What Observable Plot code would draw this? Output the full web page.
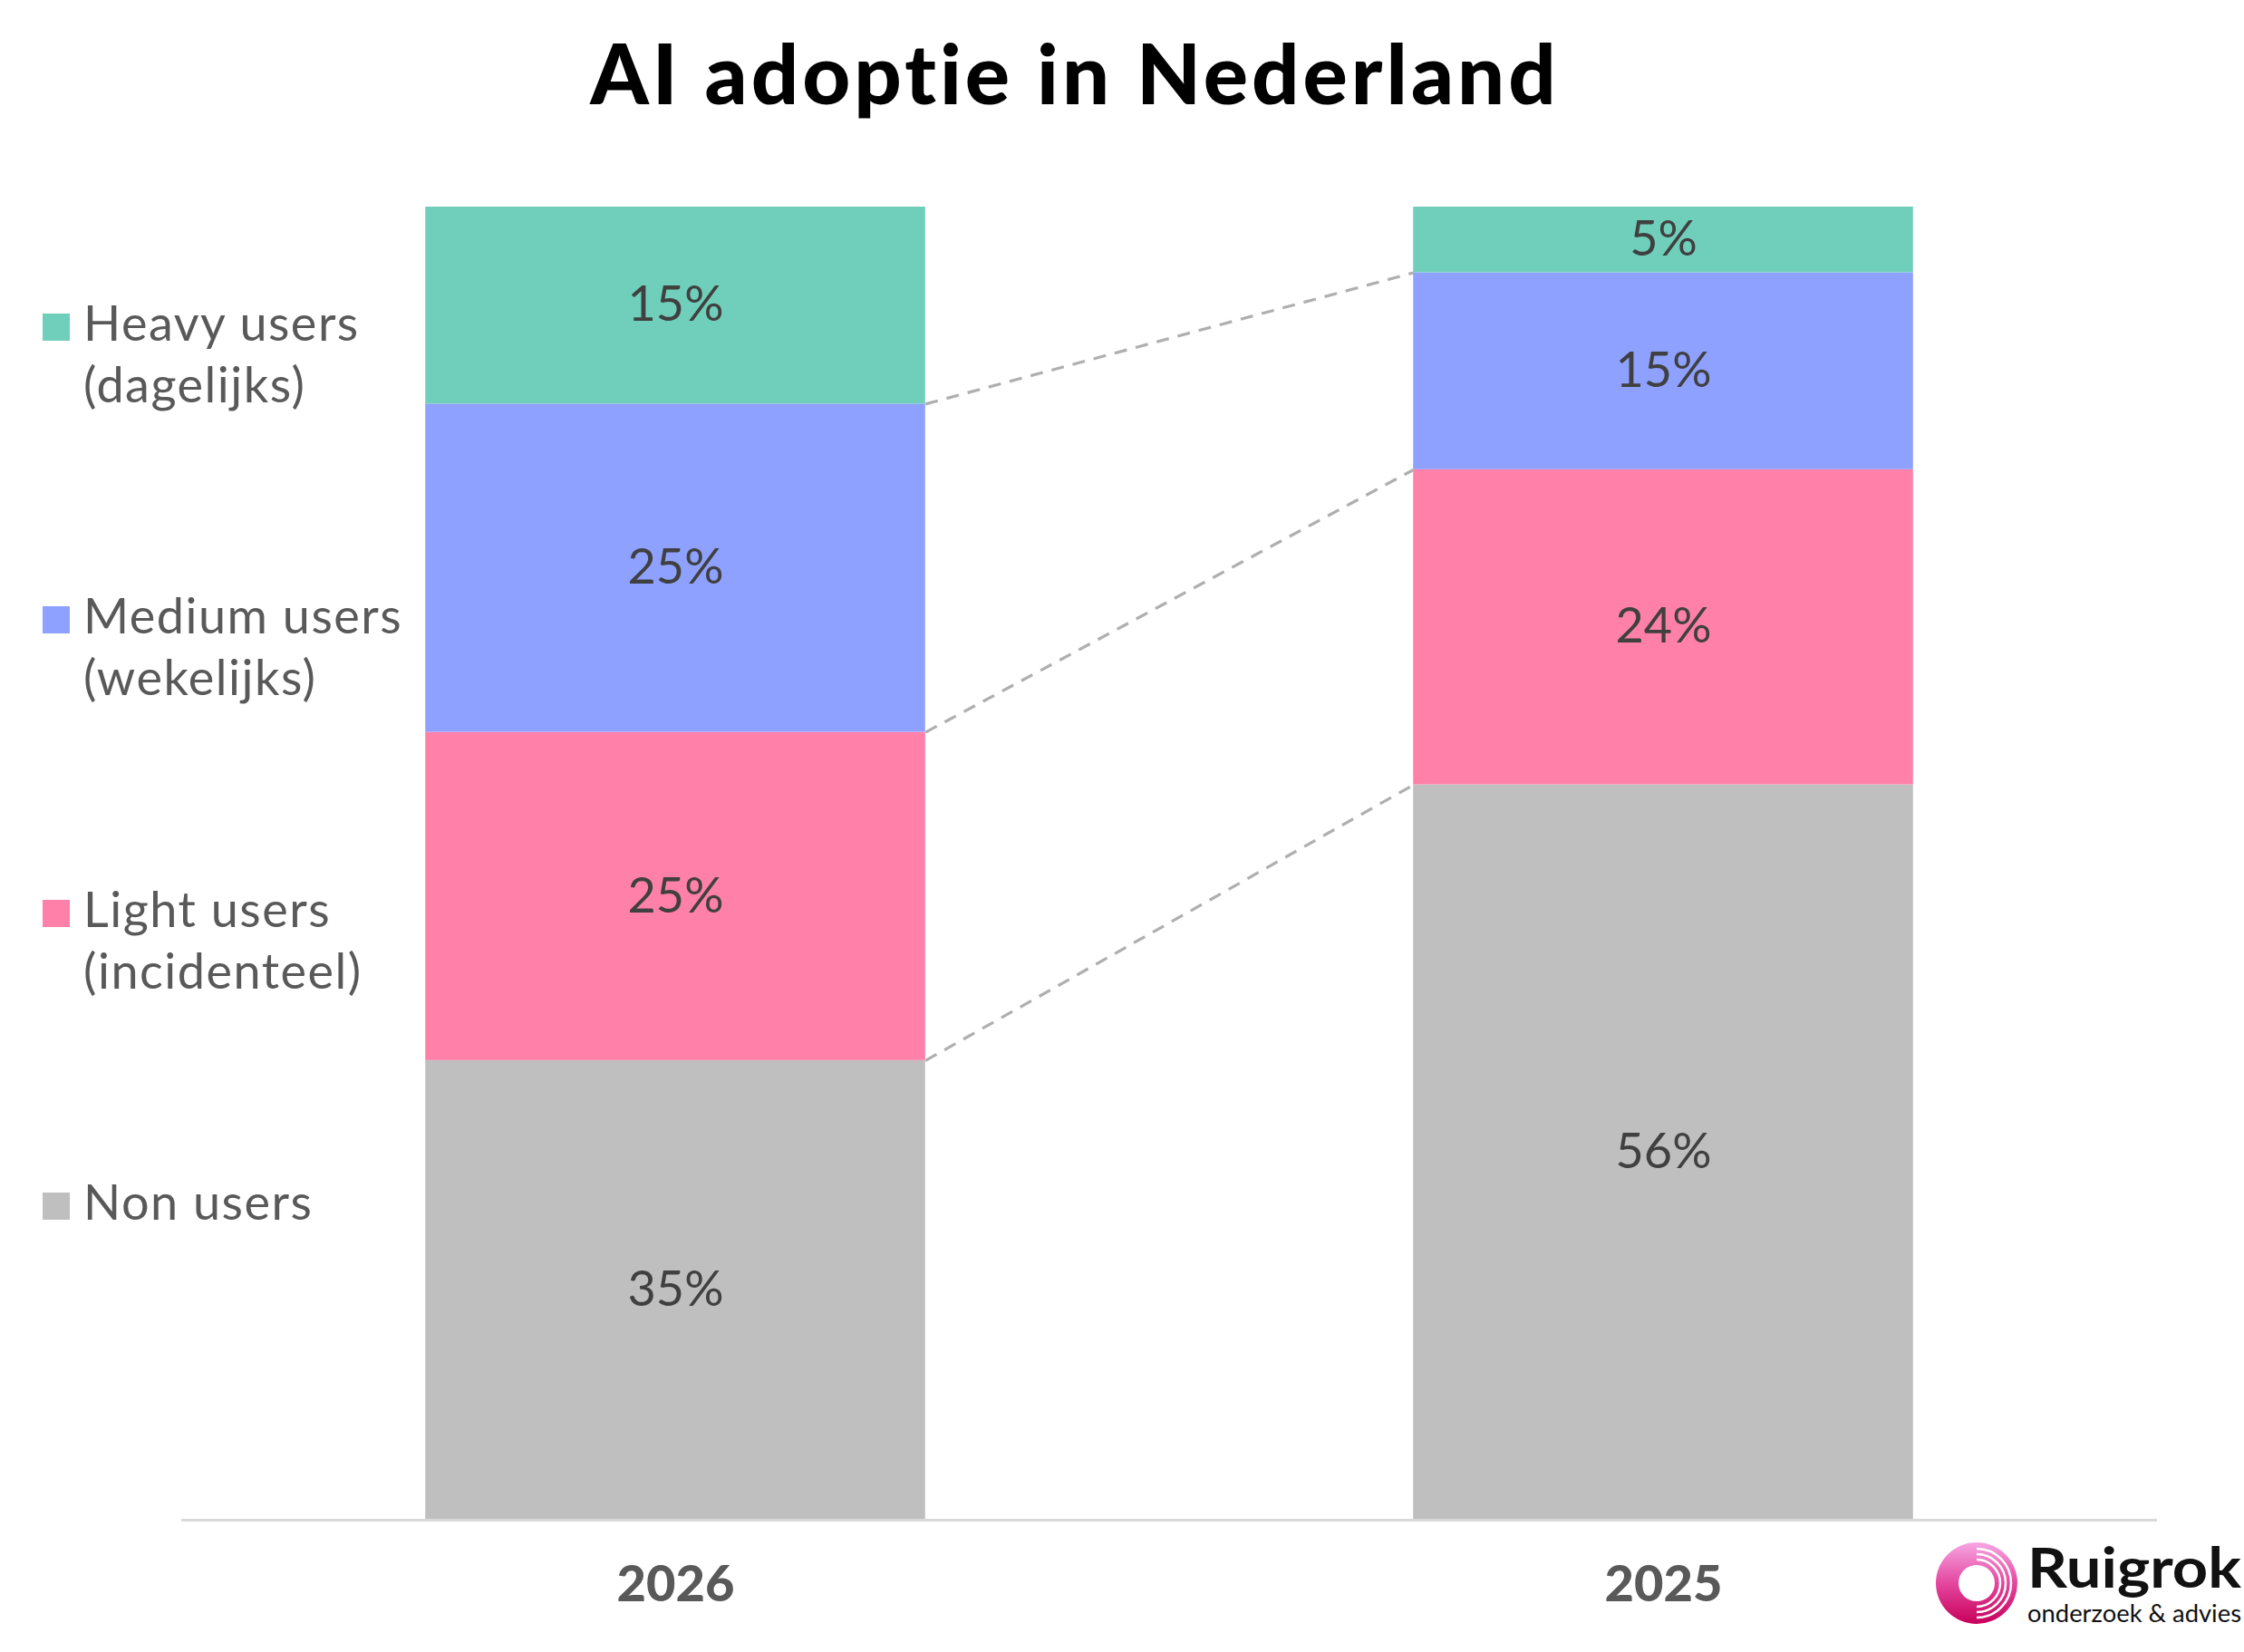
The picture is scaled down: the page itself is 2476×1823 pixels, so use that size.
<!DOCTYPE html>
<html>
<head>
<meta charset="utf-8">
<script src="https://cdn.jsdelivr.net/npm/d3@7"></script>
<script src="https://cdn.jsdelivr.net/npm/@observablehq/plot@0.6"></script>
<style>
  html, body { margin: 0; padding: 0; background: #fff; }
  #wrap { position: relative; width: 2476px; height: 1823px; overflow: hidden; font-family: Lato, "Noto Sans", sans-serif; }
  #title { position: absolute; top: 25px; left: 0; width: 2372px; text-align: center; font-weight: 900; font-size: 92px; line-height: 1.2; letter-spacing: 4px; color: #000; }
  #chart { position: absolute; top: 150px; left: 0; }
  .leg { position: absolute; left: 0; }
  .leg .sw { position: absolute; left: 47px; width: 30px; height: 30px; }
  .leg .tx { position: absolute; left: 92px; font-size: 54px; line-height: 68px; letter-spacing: 1.5px; color: #595959; white-space: nowrap; }
  #logo { position: absolute; left: 2120px; top: 1690px; }
</style>
</head>
<body>
<div id="wrap">
  <div id="title">AI adoptie in Nederland</div>
  <div id="chart"></div>
  <div id="legend"></div>
  <svg id="logo" width="356" height="120" viewBox="2120 1690 356 120">
    <defs>
      <linearGradient id="lg" x1="0" y1="0" x2="0" y2="1">
        <stop offset="0" stop-color="#f7a6e2"/>
        <stop offset="0.5" stop-color="#e4479f"/>
        <stop offset="1" stop-color="#c8005a"/>
      </linearGradient>
      <clipPath id="rh"><rect x="2181" y="1700" width="50" height="95"/></clipPath>
    </defs>
    <circle cx="2181" cy="1747" r="45" fill="url(#lg)"/>
    <circle cx="2181" cy="1747" r="20" fill="#fff"/>
    <g clip-path="url(#rh)" fill="none" stroke="#fff" stroke-width="2.5">
      <circle cx="2181" cy="1747" r="26"/>
      <circle cx="2181" cy="1747" r="32"/>
      <circle cx="2181" cy="1747" r="38"/>
    </g>
    <text x="2237" y="1752" font-family="Lato, sans-serif" font-weight="700" font-size="62" textLength="236" lengthAdjust="spacingAndGlyphs" fill="#111">Ruigrok</text>
    <text x="2237" y="1790" font-family="Lato, sans-serif" font-weight="400" font-size="26" textLength="236" lengthAdjust="spacingAndGlyphs" fill="#111">onderzoek &amp; advies</text>
  </svg>
</div>
<script>
// ---- data ----
const years = ["2026", "2025"];
const categories = ["Non users", "Light users", "Medium users", "Heavy users"];
const legendLines = {
  "Heavy users": ["Heavy users", "(dagelijks)"],
  "Medium users": ["Medium users", "(wekelijks)"],
  "Light users": ["Light users", "(incidenteel)"],
  "Non users": ["Non users"]
};
const values2026 = [35, 25, 25, 15];
const values2025 = [56, 24, 15, 5];

// ---- styles ----
const colors = ["#bfbfbf", "#ff80a9", "#8ea1ff", "#6fcfbb"];
const HALF = 0.253; // half bar width in x units

// ---- build tables ----
const seriesByYear = [values2026, values2025];
const rows = [];
const cums = [];
seriesByYear.forEach((vals, xi) => {
  let acc = 0;
  const c = [0];
  vals.forEach((v, ci) => {
    rows.push({year: years[xi], xi, category: categories[ci], value: v, y1: acc, y2: acc + v});
    acc += v;
    c.push(acc);
  });
  cums.push(c);
});
const links = [1, 2, 3].map(k => ({y1: cums[0][k], y2: cums[1][k]}));

const plot = Plot.plot({
  width: 2476,
  height: 1673,
  marginLeft: 200,
  marginRight: 96,
  marginTop: 78,
  marginBottom: 146,
  style: {fontFamily: "Lato, 'Noto Sans', sans-serif", background: "transparent", overflow: "visible"},
  x: {type: "linear", domain: [-0.5, 1.5], axis: null},
  y: {domain: [0, 100], axis: null},
  color: {domain: categories, range: colors},
  marks: [
    Plot.link(links, {x1: () => HALF, x2: () => 1 - HALF, y1: "y1", y2: "y2", stroke: "#afafaf", strokeWidth: 3.2, strokeDasharray: "14,10"}),
    Plot.rectY(rows, {x1: d => d.xi - HALF, x2: d => d.xi + HALF, y1: "y1", y2: "y2", fill: "category"}),
    Plot.text(rows, {x: "xi", y: d => (d.y1 + d.y2) / 2, text: d => `${d.value}%`, fontSize: 54, fill: "#404040"}),
    Plot.ruleY([0], {stroke: "#d9d9d9", strokeWidth: 3}),
    Plot.text(years, {x: (d, i) => i, y: () => 0, text: d => d, dy: 72, fontSize: 56, fontWeight: 900, fill: "#595959"})
  ]
});
document.getElementById("chart").appendChild(plot);

// ---- legend (HTML) ----
const legend = document.getElementById("legend");
const legendOrder = categories.slice().reverse();
legendOrder.forEach((cat, i) => {
  const baseline = 377 + i * 323.3;
  const sw = document.createElement("div");
  sw.className = "leg";
  sw.innerHTML = `<div class="sw" style="top:${baseline - 31}px;background:${colors[categories.indexOf(cat)]}"></div>` +
    `<div class="tx" style="top:${baseline - 55}px">${legendLines[cat].join("<br>")}</div>`;
  legend.appendChild(sw);
});
</script>
</body>
</html>
